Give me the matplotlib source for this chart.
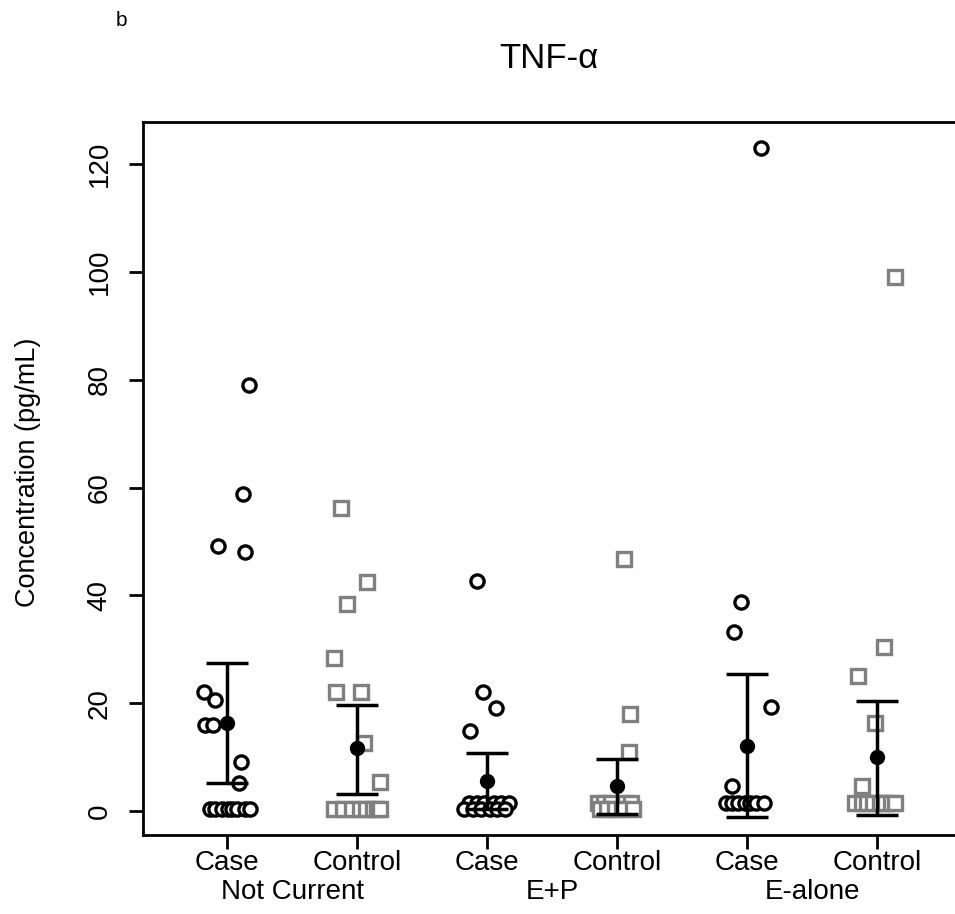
import matplotlib
matplotlib.use("Agg")
import matplotlib.pyplot as plt
import matplotlib.transforms as mtransforms

plt.rcParams['font.family'] = ['Liberation Sans', 'DejaVu Sans']

# groupes et valeurs
groupes = ["Not Current", "E+P", "E-alone"]
sous_groupes = ["Case", "Control", "Case", "Control", "Case", "Control"]

nc_case = [79.0, 58.8, 49.2, 48.0, 22.1, 20.6, 16.0, 16.0, 9.1, 5.2,
           0.4, 0.4, 0.4, 0.4, 0.4, 0.4, 0.4, 0.4]
nc_case_jit = [0.17, 0.12, -0.07, 0.14, -0.18, -0.09, -0.17, -0.11, 0.11, 0.09,
               -0.13, -0.09, -0.04, 0.01, 0.04, 0.08, 0.14, 0.18]
nc_ctrl = [56.2, 42.5, 38.4, 28.4, 22.1, 22.1, 12.6, 5.4,
           0.3, 0.3, 0.3, 0.3, 0.3, 0.3, 0.3, 0.3]
nc_ctrl_jit = [-0.12, 0.08, -0.08, -0.18, -0.16, 0.03, 0.05, 0.18,
               -0.18, -0.11, -0.04, 0.02, 0.07, 0.12, 0.15, 0.18]

ep_case = [42.7, 22.1, 19.1, 14.8,
           1.5, 1.5, 1.5, 1.5, 1.5, 1.5,
           0.4, 0.4, 0.4, 0.4, 0.4, 0.4]
ep_case_jit = [-0.08, -0.03, 0.07, -0.13,
               -0.14, -0.08, -0.02, 0.05, 0.11, 0.17,
               -0.18, -0.11, -0.05, 0.02, 0.08, 0.14]
ep_ctrl = [46.8, 18.0, 11.0,
           1.5, 1.5, 1.5, 1.5, 1.5,
           0.4, 0.4, 0.4, 0.4, 0.4]
ep_ctrl_jit = [0.05, 0.10, 0.09,
               -0.15, -0.10, -0.05, 0.06, 0.11,
               -0.13, -0.08, -0.02, 0.04, 0.12]

ea_case = [123.0, 38.8, 33.2, 19.2, 4.6,
           1.5, 1.5, 1.5, 1.5, 1.5, 1.5, 1.5]
ea_case_jit = [0.11, -0.05, -0.10, 0.18, -0.12,
               -0.16, -0.12, -0.07, -0.02, 0.02, 0.07, 0.13]
ea_ctrl = [99.1, 30.4, 25.0, 16.3, 4.6,
           1.5, 1.5, 1.5, 1.5, 1.5, 1.5, 1.5, 1.5]
ea_ctrl_jit = [0.14, 0.05, -0.15, -0.02, -0.12,
               -0.17, -0.12, -0.08, -0.03, 0.02, 0.06, 0.11, 0.14]

moyennes = [16.3, 11.7, 5.6, 4.6, 12.1, 10.0]
bas = [5.2, 3.2, 0.4, -0.5, -1.1, -0.7]
haut = [27.4, 19.7, 10.8, 9.6, 25.4, 20.4]

series = [(nc_case, nc_case_jit), (nc_ctrl, nc_ctrl_jit),
          (ep_case, ep_case_jit), (ep_ctrl, ep_ctrl_jit),
          (ea_case, ea_case_jit), (ea_ctrl, ea_ctrl_jit)]

fig = plt.figure(figsize=(9.55, 9.14), dpi=100)
ax = fig.add_axes([143/955, 79/914, 820/955, 713/914])

for i, (vals, jit) in enumerate(series):
    pos = i + 1
    xs = [pos + j for j in jit]
    if i % 2 == 0:
        ax.plot(xs, vals, 'o', mfc='white', mec='black', ms=9.5, mew=2.4, ls='none')
    else:
        ax.plot(xs, vals, 's', mfc='white', mec='#808080', ms=9.5, mew=2.4, ls='none')

for i in range(6):
    pos = i + 1
    ax.errorbar(pos, moyennes[i],
                yerr=[[moyennes[i] - bas[i]], [haut[i] - moyennes[i]]],
                fmt='o', color='black', ms=10, capsize=15, elinewidth=2.5,
                capthick=2.5, zorder=5)

ax.set_xlim(0.354, 6.66)
ax.set_ylim(-4.45, 127.8)
ax.set_xticks(range(1, 7))
ax.set_xticklabels(sous_groupes, fontsize=20)
ax.set_yticks([0, 20, 40, 60, 80, 100, 120])
ax.set_yticklabels(["0", "20", "40", "60", "80", "100", "120"], fontsize=20,
                   rotation=90, va='center')
ax.tick_params(axis='both', direction='out', length=10, width=2)
ax.tick_params(axis='x', pad=1)
ax.tick_params(axis='y', pad=12)
for s in ax.spines.values():
    s.set_linewidth(2)

trans = mtransforms.blended_transform_factory(ax.transData, fig.transFigure)
for k, g in enumerate(groupes):
    ax.text(2 * k + 1.5, 1 - 892/914, g, transform=trans, ha='center', va='center',
            fontsize=20)

fig.text(28/955, 1 - 472/914, "Concentration (pg/mL)", rotation=90,
         ha='center', va='center', fontsize=19.5)
fig.text(549/955, 1 - 58/914, "TNF-\u03b1", ha='center', va='center', fontsize=25)
fig.text(121/955, 1 - 20/914, "b", ha='center', va='center', fontsize=15)

fig.savefig("out.png", dpi=100)
